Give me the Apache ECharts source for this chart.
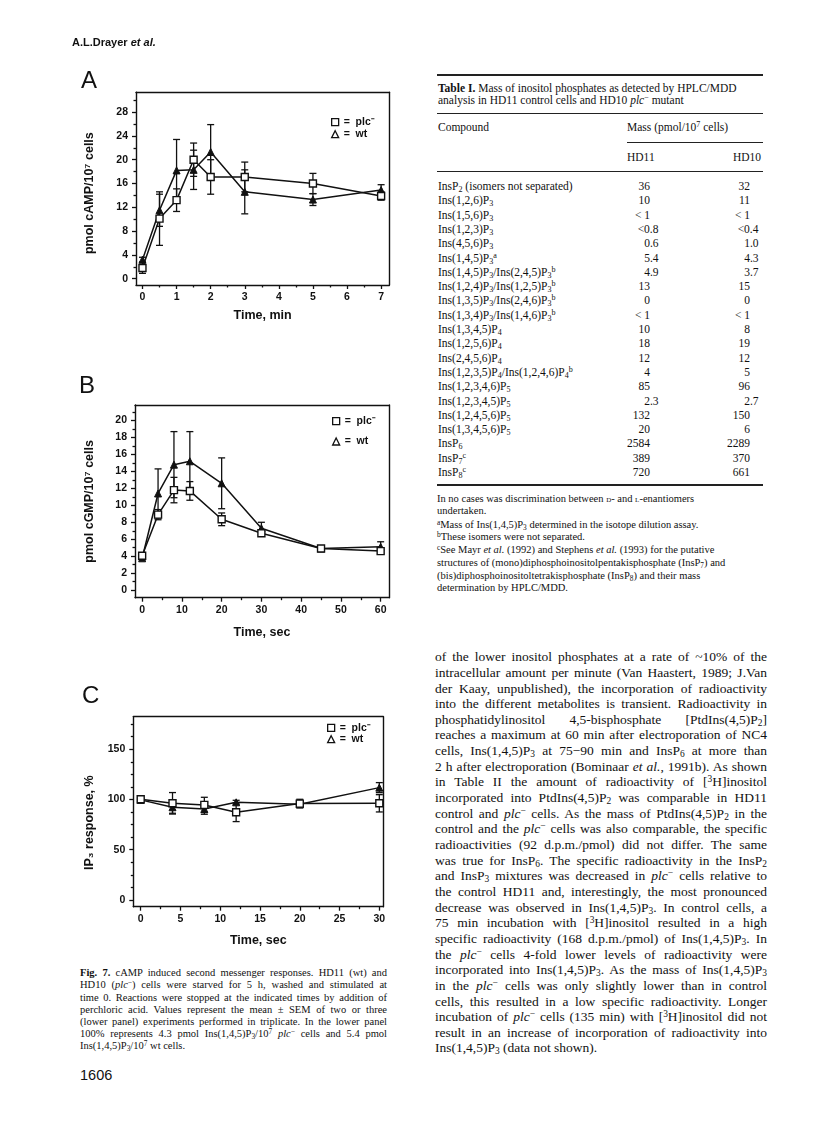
<!DOCTYPE html>
<html>
<head>
<meta charset="utf-8">
<script src="https://cdn.jsdelivr.net/npm/echarts@6.0.0/dist/echarts.min.js"></script>
<style>
  body { margin: 0; background: #fff; }
  #page { position: relative; width: 816px; height: 1142px; overflow: hidden; font-family: 'Liberation Serif', serif; color: #111; }
  #chart { position: absolute; left: 0; top: 0; width: 420px; height: 960px; }
  .ln { position: absolute; white-space: nowrap; }
  .ln sub, .ln sup { font-size: 70%; line-height: 0; }
  .ln sub { vertical-align: -0.25em; }
  .ln sup { vertical-align: 0.45em; }
  .rule { position: absolute; background: #222; }
  .sans { font-family: 'Liberation Sans', sans-serif; }
</style>
</head>
<body>
<div id="page"><div id="chart"></div></div>
<script>
// ---- data ----
var timesA = [0, 0.5, 1, 1.5, 2, 3, 5, 7]
var plcA = [1.8, 10.1, 13.2, 20.0, 17.1, 17.1, 16.0, 13.9]
var plcAErr = [0.9, 4.5, 1.9, 2.8, 2.9, 2.5, 1.7, 0.7]
var wtA = [3.2, 11.5, 18.2, 18.3, 21.3, 14.6, 13.3, 14.9]
var wtAErr = [0.4, 2.7, 5.2, 3.3, 4.6, 3.7, 1.0, 0.9]

var timesB = [0, 4, 8, 12, 20, 30, 45, 60]
var plcB = [4.05, 8.9, 11.8, 11.7, 8.35, 6.7, 4.9, 4.6]
var plcBErr = [0.2, 0.6, 1.5, 1.1, 0.75, 0.3, 0.3, 0.3]
var wtB = [3.75, 11.4, 14.8, 15.2, 12.6, 7.3, 4.9, 5.1]
var wtBErr = [0.2, 2.9, 3.9, 3.5, 3.0, 0.7, 0.2, 0.6]

var timesC = [0, 4, 8, 12, 20, 30]
var plcC = [100.2, 96.2, 94.6, 87.3, 95.9, 96.2]
var plcCErr = [1, 10.7, 7.6, 9.3, 4.3, 8.6]
var wtC = [99.6, 92.3, 90.6, 97.2, 95.3, 111.8]
var wtCErr = [1, 6, 5.3, 2, 3, 5]

// tick labels
var xTicksA = [0, 1, 2, 3, 4, 5, 6, 7]
var xMinorA = [0.5, 1.5, 2.5, 3.5, 4.5, 5.5, 6.5]
var yTicksA = [0, 4, 8, 12, 16, 20, 24, 28]
var yMinorA = [2, 6, 10, 14, 18, 22, 26, 30]
var xTicksB = [0, 10, 20, 30, 40, 50, 60]
var xMinorB = [5, 15, 25, 35, 45, 55]
var yTicksB = [0, 2, 4, 6, 8, 10, 12, 14, 16, 18, 20]
var yMinorB = [1, 3, 5, 7, 9, 11, 13, 15, 17, 19, 21]
var xTicksC = [0, 5, 10, 15, 20, 25, 30]
var xMinorC = [2.5, 7.5, 12.5, 17.5, 22.5, 27.5]
var yTicksC = [0, 50, 100, 150]
var yMinorC = [12.5, 25, 37.5, 62.5, 75, 87.5, 112.5, 125, 137.5, 162.5, 175]

var FONT = 'Liberation Sans'
var INK = '#111'

var panels = [
  { box: { left: 136, top: 92.3, width: 253.3, height: 192.7 },
    xMin: -0.19, xMax: 7.24, yMin: -1.06, yMax: 31.33,
    xTicks: xTicksA, xMinor: xMinorA, yTicks: yTicksA, yMinor: yMinorA,
    xName: 'Time, min', yName: 'pmol cAMP/10⁷ cells', xGap: 24, yGap: 40, yShift: 9,
    times: timesA, plc: plcA, plcErr: plcAErr, wt: wtA, wtErr: wtAErr,
    legend: { left: 331, top: 116.7, gap: 1, lh: 10 } },
  { box: { left: 135, top: 405, width: 254, height: 192.7 },
    xMin: -1.8, xMax: 62.1, yMin: -0.9, yMax: 21.84,
    xTicks: xTicksB, xMinor: xMinorB, yTicks: yTicksB, yMinor: yMinorB,
    xName: 'Time, sec', yName: 'pmol cGMP/10⁷ cells', xGap: 28, yGap: 39, yShift: 0,
    times: timesB, plc: plcB, plcErr: plcBErr, wt: wtB, wtErr: wtBErr,
    legend: { left: 332, top: 415.7, gap: 9.3, lh: 10 } },
  { box: { left: 133.3, top: 716.7, width: 250, height: 190 },
    xMin: -0.93, xMax: 30.5, yMin: -6.7, yMax: 182.4,
    xTicks: xTicksC, xMinor: xMinorC, yTicks: yTicksC, yMinor: yMinorC,
    xName: 'Time, sec', yName: 'IP₃ response, %', xGap: 27, yGap: 37, yShift: 22,
    times: timesC, plc: plcC, plcErr: plcCErr, wt: wtC, wtErr: wtCErr,
    legend: { left: 327, top: 722.3, gap: 0.4, lh: 9 } }
]

var grid = [], xAxis = [], yAxis = [], series = [], legend = []

function labelStyle (size) {
  return { fontFamily: FONT, fontWeight: 'bold', fontSize: size, color: INK }
}
var frameLine = { show: true, onZero: false, lineStyle: { color: INK, width: 1.4 } }
var noLine = { show: false, onZero: false }

// vertical error bar with caps
function errorBar (params, api) {
  var hi = api.coord([api.value(0), api.value(2)])
  var lo = api.coord([api.value(0), api.value(1)])
  var w = 3.5
  var st = { stroke: INK, lineWidth: 1.3 }
  return {
    type: 'group',
    children: [
      { type: 'line', shape: { x1: hi[0], y1: hi[1], x2: lo[0], y2: lo[1] }, style: st },
      { type: 'line', shape: { x1: hi[0] - w, y1: hi[1], x2: hi[0] + w, y2: hi[1] }, style: st },
      { type: 'line', shape: { x1: lo[0] - w, y1: lo[1], x2: lo[0] + w, y2: lo[1] }, style: st }
    ]
  }
}

panels.forEach(function (p, g) {
  grid.push({
    left: p.box.left, top: p.box.top, width: p.box.width, height: p.box.height,
    show: false, outerBoundsMode: 'none', containLabel: false
  })
  // bottom: ticks + labels, minor ticks, then a top axis that only closes the frame
  xAxis.push({
    gridIndex: g, type: 'value', position: 'bottom', min: p.xMin, max: p.xMax,
    name: p.xName, nameLocation: 'middle', nameGap: p.xGap, nameTextStyle: labelStyle(12.5),
    axisLine: frameLine, splitLine: { show: false },
    axisTick: { show: true, customValues: p.xTicks, length: 4, lineStyle: { color: INK, width: 1.3 } },
    axisLabel: Object.assign({ customValues: p.xTicks, margin: 7 }, labelStyle(10.5))
  })
  xAxis.push({
    gridIndex: g, type: 'value', position: 'bottom', min: p.xMin, max: p.xMax,
    axisLine: noLine, splitLine: { show: false },
    axisTick: { show: true, customValues: p.xMinor, length: 2.5, lineStyle: { color: INK, width: 1.3 } },
    axisLabel: { show: false }
  })
  xAxis.push({
    gridIndex: g, type: 'value', position: 'top', min: p.xMin, max: p.xMax,
    axisLine: frameLine, splitLine: { show: false }, axisTick: { show: false }, axisLabel: { show: false }
  })
  yAxis.push({
    gridIndex: g, type: 'value', position: 'left', min: p.yMin, max: p.yMax,
    name: p.yName, nameLocation: 'middle', nameGap: p.yGap, nameRotate: 90,
    nameTextStyle: Object.assign({ padding: [0, p.yShift, 0, 0] }, labelStyle(12.5)),
    axisLine: frameLine, splitLine: { show: false },
    axisTick: { show: true, customValues: p.yTicks, length: 4, lineStyle: { color: INK, width: 1.3 } },
    axisLabel: Object.assign({ customValues: p.yTicks, margin: 8 }, labelStyle(10.5))
  })
  yAxis.push({
    gridIndex: g, type: 'value', position: 'left', min: p.yMin, max: p.yMax,
    axisLine: noLine, splitLine: { show: false },
    axisTick: { show: true, customValues: p.yMinor, length: 2.5, lineStyle: { color: INK, width: 1.3 } },
    axisLabel: { show: false }
  })
  yAxis.push({
    gridIndex: g, type: 'value', position: 'right', min: p.yMin, max: p.yMax,
    axisLine: frameLine, splitLine: { show: false }, axisTick: { show: false }, axisLabel: { show: false }
  })

  var xi = 3 * g, yi = 3 * g
  var plcData = p.times.map(function (t, i) { return [t, p.plc[i]] })
  var wtData = p.times.map(function (t, i) { return [t, p.wt[i]] })
  var plcBars = p.times.map(function (t, i) { return [t, p.plc[i] - p.plcErr[i], p.plc[i] + p.plcErr[i]] })
  var wtBars = p.times.map(function (t, i) { return [t, p.wt[i] - p.wtErr[i], p.wt[i] + p.wtErr[i]] })

  series.push({ type: 'custom', xAxisIndex: xi, yAxisIndex: yi, renderItem: errorBar, data: wtBars, encode: { x: 0, y: [1, 2] }, z: 2, silent: true })
  series.push({ type: 'custom', xAxisIndex: xi, yAxisIndex: yi, renderItem: errorBar, data: plcBars, encode: { x: 0, y: [1, 2] }, z: 2, silent: true })
  series.push({
    name: 'wt', type: 'line', xAxisIndex: xi, yAxisIndex: yi, data: wtData,
    symbol: 'triangle', symbolSize: 7, itemStyle: { color: INK, borderColor: INK, borderWidth: 1 },
    lineStyle: { color: INK, width: 1.5 }, z: 3, silent: true
  })
  series.push({
    name: 'plc⁻', type: 'line', xAxisIndex: xi, yAxisIndex: yi, data: plcData,
    symbol: 'rect', symbolSize: 7, itemStyle: { color: '#fff', borderColor: INK, borderWidth: 1.4 },
    lineStyle: { color: INK, width: 1.5 }, z: 4, silent: true
  })

  legend.push({
    left: p.legend.left, top: p.legend.top, orient: 'vertical', itemGap: p.legend.gap, padding: 0,
    itemWidth: 7, itemHeight: 7, selectedMode: false, formatter: '=  {name}',
    textStyle: Object.assign({ lineHeight: p.legend.lh }, labelStyle(10.5)),
    data: [
      { name: 'plc⁻', icon: 'rect', itemStyle: { color: '#fff', borderColor: INK, borderWidth: 1.3 } },
      { name: 'wt', icon: 'triangle', itemStyle: { color: '#fff', borderColor: INK, borderWidth: 1.3 } }
    ]
  })
})

var chart = echarts.init(document.getElementById('chart'), null, { renderer: 'canvas' })
chart.setOption({
  animation: false,
  backgroundColor: 'transparent',
  grid: grid,
  xAxis: xAxis,
  yAxis: yAxis,
  legend: legend,
  series: series,
  graphic: [
    { type: 'text', left: 81, top: 69, style: { text: 'A', fontFamily: FONT, fontSize: 24, fill: INK } },
    { type: 'text', left: 79, top: 374, style: { text: 'B', fontFamily: FONT, fontSize: 24, fill: INK } },
    { type: 'text', left: 82, top: 684, style: { text: 'C', fontFamily: FONT, fontSize: 24, fill: INK } }
  ]
})

// ---- page text (table, caption, body) ----
var compounds = [
  'InsP<sub>2</sub> (isomers not separated)',
  'Ins(1,2,6)P<sub>3</sub>',
  'Ins(1,5,6)P<sub>3</sub>',
  'Ins(1,2,3)P<sub>3</sub>',
  'Ins(4,5,6)P<sub>3</sub>',
  'Ins(1,4,5)P<sub>3</sub><sup>a</sup>',
  'Ins(1,4,5)P<sub>3</sub>/Ins(2,4,5)P<sub>3</sub><sup>b</sup>',
  'Ins(1,2,4)P<sub>3</sub>/Ins(1,2,5)P<sub>3</sub><sup>b</sup>',
  'Ins(1,3,5)P<sub>3</sub>/Ins(2,4,6)P<sub>3</sub><sup>b</sup>',
  'Ins(1,3,4)P<sub>3</sub>/Ins(1,4,6)P<sub>3</sub><sup>b</sup>',
  'Ins(1,3,4,5)P<sub>4</sub>',
  'Ins(1,2,5,6)P<sub>4</sub>',
  'Ins(2,4,5,6)P<sub>4</sub>',
  'Ins(1,2,3,5)P<sub>4</sub>/Ins(1,2,4,6)P<sub>4</sub><sup>b</sup>',
  'Ins(1,2,3,4,6)P<sub>5</sub>',
  'Ins(1,2,3,4,5)P<sub>5</sub>',
  'Ins(1,2,4,5,6)P<sub>5</sub>',
  'Ins(1,3,4,5,6)P<sub>5</sub>',
  'InsP<sub>6</sub>',
  'InsP<sub>7</sub><sup>c</sup>',
  'InsP<sub>8</sub><sup>c</sup>'
]
var massHD11 = ['36', '10', '&lt; 1', '&lt;0.8', '0.6', '5.4', '4.9', '13', '0', '&lt; 1', '10', '18', '12', '4', '85', '2.3', '132', '20', '2584', '389', '720']
var massHD10 = ['32', '11', '&lt; 1', '&lt;0.4', '1.0', '4.3', '3.7', '15', '0', '&lt; 1', '8', '19', '12', '5', '96', '2.7', '150', '6', '2289', '370', '661']

var footnotes = [
  'In no cases was discrimination between <span style="font-variant:small-caps">d</span>- and <span style="font-variant:small-caps">l</span>-enantiomers',
  'undertaken.',
  '<sup>a</sup>Mass of Ins(1,4,5)P<sub>3</sub> determined in the isotope dilution assay.',
  '<sup>b</sup>These isomers were not separated.',
  '<sup>c</sup>See Mayr <i>et al.</i> (1992) and Stephens <i>et al.</i> (1993) for the putative',
  'structures of (mono)diphosphoinositolpentakisphosphate (InsP<sub>7</sub>) and',
  '(bis)diphosphoinositoltetrakisphosphate (InsP<sub>8</sub>) and their mass',
  'determination by HPLC/MDD.'
]

var captionLines = [
  '<b>Fig. 7.</b> cAMP induced second messenger responses. HD11 (wt) and',
  'HD10 (<i>plc</i><sup>−</sup>) cells were starved for 5 h, washed and stimulated at',
  'time 0. Reactions were stopped at the indicated times by addition of',
  'perchloric acid. Values represent the mean ± SEM of two or three',
  '(lower panel) experiments performed in triplicate. In the lower panel',
  '100% represents 4.3 pmol Ins(1,4,5)P<sub>3</sub>/10<sup>7</sup> <i>plc</i><sup>−</sup> cells and 5.4 pmol',
  'Ins(1,4,5)P<sub>3</sub>/10<sup>7</sup> wt cells.'
]

var bodyLines = [
  'of the lower inositol phosphates at a rate of ~10% of the',
  'intracellular amount per minute (Van Haastert, 1989; J.Van',
  'der Kaay, unpublished), the incorporation of radioactivity',
  'into the different metabolites is transient. Radioactivity in',
  'phosphatidylinositol 4,5-bisphosphate [PtdIns(4,5)P<sub>2</sub>]',
  'reaches a maximum at 60 min after electroporation of NC4',
  'cells, Ins(1,4,5)P<sub>3</sub> at 75−90 min and InsP<sub>6</sub> at more than',
  '2 h after electroporation (Bominaar <i>et al.</i>, 1991b). As shown',
  'in Table II the amount of radioactivity of [<sup>3</sup>H]inositol',
  'incorporated into PtdIns(4,5)P<sub>2</sub> was comparable in HD11',
  'control and <i>plc</i><sup>−</sup> cells. As the mass of PtdIns(4,5)P<sub>2</sub> in the',
  'control and the <i>plc</i><sup>−</sup> cells was also comparable, the specific',
  'radioactivities (92 d.p.m./pmol) did not differ. The same',
  'was true for InsP<sub>6</sub>. The specific radioactivity in the InsP<sub>2</sub>',
  'and InsP<sub>3</sub> mixtures was decreased in <i>plc</i><sup>−</sup> cells relative to',
  'the control HD11 and, interestingly, the most pronounced',
  'decrease was observed in Ins(1,4,5)P<sub>3</sub>. In control cells, a',
  '75 min incubation with [<sup>3</sup>H]inositol resulted in a high',
  'specific radioactivity (168 d.p.m./pmol) of Ins(1,4,5)P<sub>3</sub>. In',
  'the <i>plc</i><sup>−</sup> cells 4-fold lower levels of radioactivity were',
  'incorporated into Ins(1,4,5)P<sub>3</sub>. As the mass of Ins(1,4,5)P<sub>3</sub>',
  'in the <i>plc</i><sup>−</sup> cells was only slightly lower than in control',
  'cells, this resulted in a low specific radioactivity. Longer',
  'incubation of <i>plc</i><sup>−</sup> cells (135 min) with [<sup>3</sup>H]inositol did not',
  'result in an increase of incorporation of radioactivity into',
  'Ins(1,4,5)P<sub>3</sub> (data not shown).'
]

var page = document.getElementById('page')

// place one line of text by its vertical centre; justify stretches word gaps to the width
function addLine (html, x, yc, size, lh, opts) {
  opts = opts || {}
  var d = document.createElement('div')
  d.className = 'ln' + (opts.sans ? ' sans' : '')
  d.innerHTML = html
  d.style.fontSize = size + 'px'
  d.style.lineHeight = lh + 'px'
  d.style.top = (yc - lh / 2) + 'px'
  if (opts.bold) d.style.fontWeight = 'bold'
  page.appendChild(d)
  var w = d.getBoundingClientRect().width
  if (opts.right) x = x - w
  d.style.left = x + 'px'
  if (opts.justify) {
    var gaps = (d.textContent.match(/ /g) || []).length
    if (gaps) d.style.wordSpacing = ((opts.justify - w) / gaps) + 'px'
  }
  return d
}

function addRule (x1, x2, y, h) {
  var r = document.createElement('div')
  r.className = 'rule'
  r.style.left = x1 + 'px'
  r.style.width = (x2 - x1) + 'px'
  r.style.top = (y - h / 2) + 'px'
  r.style.height = h + 'px'
  page.appendChild(r)
}

// running head and folio
addLine('A.L.Drayer <i>et al.</i>', 72, 42, 11, 13, { sans: true, bold: true })
addLine('1606', 80, 1075, 14.5, 16, { sans: true })

// table
addRule(437, 763, 75, 1.3)
addLine('<b>Table I.</b> Mass of inositol phosphates as detected by HPLC/MDD', 438, 88, 11.5, 12)
addLine('analysis in HD11 control cells and HD10 <i>plc</i><sup>−</sup> mutant', 438, 100, 11.5, 12)
addRule(437, 763, 113, 1)
addLine('Compound', 438, 127, 11.5, 14)
addLine('Mass (pmol/10<sup>7</sup> cells)', 627, 127, 11.5, 14)
addRule(627, 763, 142, 1)
addLine('HD11', 627, 157, 11.5, 14)
addLine('HD10', 733, 157, 11.5, 14)
addRule(437, 763, 171, 1)
compounds.forEach(function (c, i) {
  var yc = 186 + i * 14.3
  addLine(c, 438, yc, 11.5, 14)
  var a = massHD11[i], b = massHD10[i]
  addLine(a, a.indexOf('.') >= 0 ? 658.5 : 650, yc, 11.5, 14, { right: true })
  addLine(b, b.indexOf('.') >= 0 ? 758.5 : 750, yc, 11.5, 14, { right: true })
})
addRule(437, 763, 485, 1.3)
var footY = [499, 511, 525, 537, 550, 563, 576, 588]
footnotes.forEach(function (f, i) { addLine(f, 437, footY[i], 10.5, 12) })

// body text
bodyLines.forEach(function (t, i) {
  addLine(t, 435, 656.7 + i * 15.65, 13.5, 15, { justify: i < bodyLines.length - 1 ? 332 : 0 })
})

// figure legend
captionLines.forEach(function (t, i) {
  addLine(t, 80, 973.3 + i * 12.12, 10.5, 12, { justify: i < captionLines.length - 1 ? 307 : 0 })
})
</script>
</body>
</html>
